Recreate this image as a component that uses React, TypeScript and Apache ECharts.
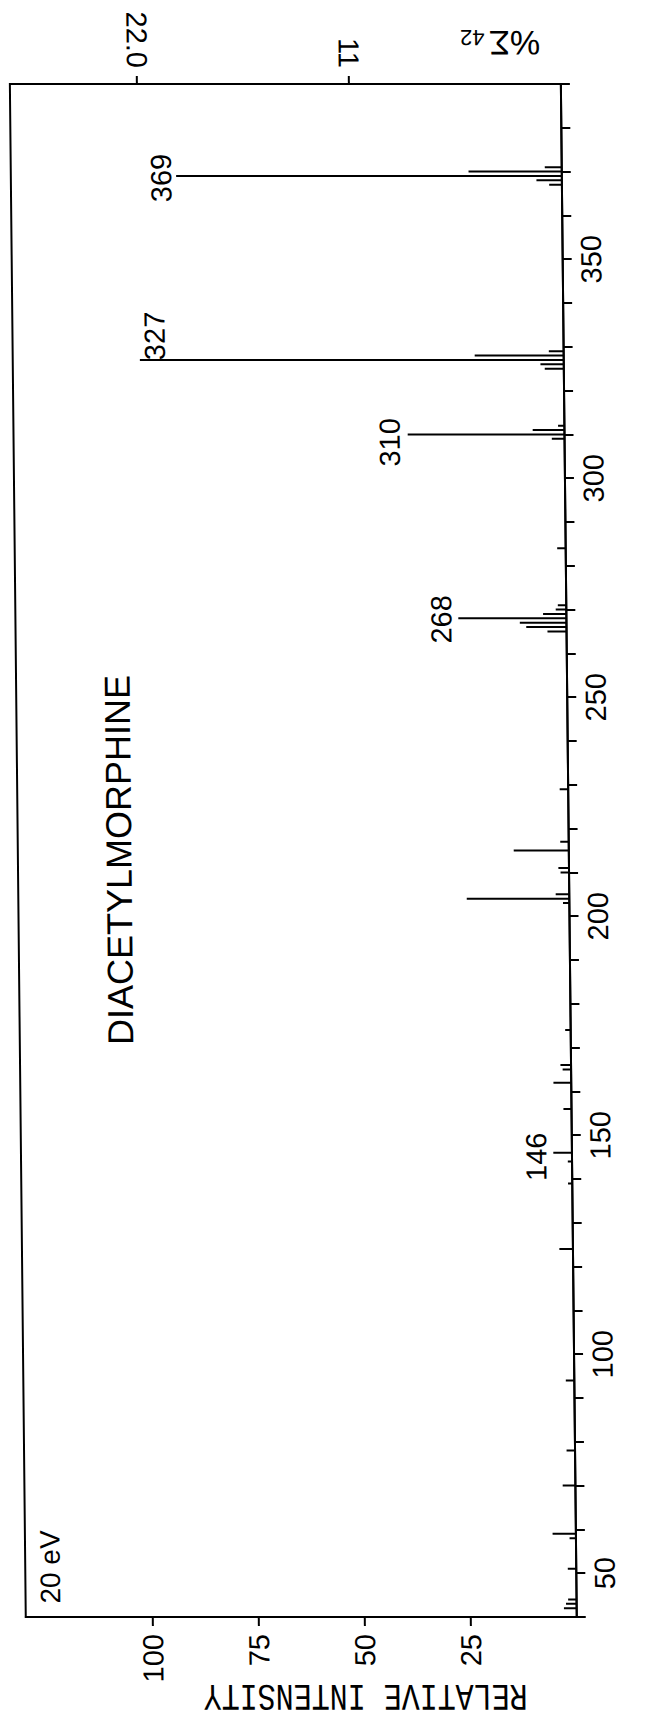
import React, { useEffect, useRef } from "react";
import * as echarts from "echarts";

// m/e of every line drawn in the spectrum
const mzValues = [
  42, 43, 44, 51, 58, 59, 70, 78, 94, 124, 139, 144, 146, 156, 162, 165, 166,
  174, 203, 204, 205, 210, 211, 215, 217, 229, 265, 266, 267, 268, 269, 270,
  271, 284, 309, 310, 311, 312, 325, 326, 327, 328, 329, 367, 368, 369, 370, 371,
];
// relative intensity (%) of each line, same order as mzValues
const intensities = [
  3, 2.5, 2, 2, 1.5, 5.5, 3, 2, 2, 3.2, 1, 1, 4.4, 1.9, 4.2, 2, 2.5,
  1.3, 1.5, 24.2, 3.2, 2, 2.5, 13, 2, 2, 4.5, 9.5, 11, 25.5, 5.5, 2.5,
  2, 2, 3, 37, 7.5, 1.5, 4.5, 5.5, 100, 21, 3.5, 3, 6, 91, 22, 4,
];
// peaks carrying a printed m/e label
const labeledPeaks = [369, 327, 310, 268, 146];
const labelOffsets = [
  [-15, 2],
  [15, -24],
  [-18, 8],
  [-17, 1],
  [-17, 4],
];

const intensityTicks = [25, 50, 75, 100];
const sumTicks = [11, 22];
const sumTickLabels = ["11", "22.0"];
const mzLabelStep = 50;

const title = "DIACETYLMORPHINE";
const energyLabel = "20 eV";
const yTitle = "RELATIVE INTENSITY";
const sumTitle = "%Σ";
const sumSub = "42";

const W = 647;
const H = 1731;
const FONT = "'Liberation Sans', Arial, sans-serif";

export default function App() {
  const ref = useRef<HTMLDivElement>(null);

  useEffect(() => {
    if (!ref.current) return;
    const chart = echarts.init(ref.current, null, { renderer: "svg" });
    const axisLine = { show: true, lineStyle: { color: "#000", width: 2 } };
    const option: any = {
      animation: false,
      backgroundColor: "#fff",
      grid: {
        show: true,
        left: 9,
        right: W - 560,
        top: 84,
        bottom: H - 1617,
        borderColor: "#000",
        borderWidth: 2,
        containLabel: false,
      },
      xAxis: [
        {
          type: "value",
          position: "bottom",
          inverse: true,
          min: 0,
          max: 130,
          interval: 25,
          axisLine,
          axisTick: {
            show: true,
            length: 9,
            lineStyle: { color: "#000", width: 2 },
            customValues: intensityTicks,
          },
          axisLabel: {
            rotate: 90,
            margin: 17,
            color: "#000",
            fontSize: 29,
            fontFamily: FONT,
            customValues: intensityTicks,
            formatter: (v: number) => (intensityTicks.includes(v) ? String(v) : ""),
          },
          splitLine: { show: false },
        },
        {
          type: "value",
          position: "top",
          inverse: true,
          min: 0,
          max: 130 * 0.22,
          interval: 11,
          axisLine,
          axisTick: {
            show: true,
            length: 8,
            lineStyle: { color: "#000", width: 2 },
            customValues: sumTicks,
          },
          axisLabel: {
            rotate: 90,
            margin: 16,
            color: "#000",
            fontSize: 29,
            fontFamily: FONT,
            customValues: sumTicks,
            formatter: (v: number) => {
              const i = sumTicks.indexOf(v);
              return i >= 0 ? sumTickLabels[i] : "";
            },
          },
          splitLine: { show: false },
        },
      ],
      yAxis: {
        type: "value",
        position: "right",
        min: 40,
        max: 390,
        interval: 10,
        axisLine,
        axisTick: { show: true, length: 9, lineStyle: { color: "#000", width: 2 } },
        axisLabel: {
          rotate: 90,
          margin: 14,
          color: "#000",
          fontSize: 29,
          fontFamily: FONT,
          formatter: (v: number) => (v % mzLabelStep === 0 ? String(v) : ""),
        },
        splitLine: { show: false },
      },
      series: [
        {
          type: "custom",
          xAxisIndex: 0,
          yAxisIndex: 0,
          clip: false,
          data: mzValues.map((m, i) => [intensities[i], m]),
          renderItem: (params: any, api: any) => {
            const v = api.value(0);
            const m = api.value(1);
            const base = api.coord([0, m]);
            const tip = api.coord([v, m]);
            const children: any[] = [
              {
                type: "line",
                shape: { x1: base[0], y1: base[1], x2: tip[0], y2: tip[1] },
                style: { stroke: "#000", lineWidth: 2 },
              },
            ];
            const li = labeledPeaks.indexOf(m);
            if (li >= 0) {
              children.push({
                type: "text",
                x: tip[0] + labelOffsets[li][0],
                y: tip[1] + labelOffsets[li][1],
                rotation: Math.PI / 2,
                style: {
                  text: String(m),
                  fill: "#000",
                  fontSize: 29,
                  fontFamily: FONT,
                  align: "center",
                  verticalAlign: "middle",
                },
              });
            }
            return { type: "group", children };
          },
        },
      ],
      graphic: [
        {
          type: "text",
          x: 110,
          y: 860,
          rotation: Math.PI / 2,
          style: {
            text: title,
            fill: "#000",
            fontSize: 36,
            fontFamily: FONT,
            align: "center",
            verticalAlign: "middle",
          },
        },
        {
          type: "text",
          x: 34,
          y: 1567,
          rotation: Math.PI / 2,
          style: {
            text: energyLabel,
            fill: "#000",
            fontSize: 28,
            fontFamily: FONT,
            align: "center",
            verticalAlign: "middle",
          },
        },
        {
          type: "text",
          x: 348,
          y: 1695,
          rotation: Math.PI,
          scaleY: 1.25,
          style: {
            text: yTitle,
            fill: "#000",
            fontSize: 30,
            fontFamily: "'Liberation Mono', 'DejaVu Sans Mono', monospace",
            align: "center",
            verticalAlign: "middle",
          },
        },
        {
          type: "text",
          x: 514,
          y: 43,
          rotation: Math.PI,
          style: {
            text: sumTitle,
            fill: "#000",
            fontSize: 34,
            fontFamily: FONT,
            align: "center",
            verticalAlign: "middle",
          },
        },
        {
          type: "text",
          x: 472,
          y: 37,
          rotation: Math.PI,
          style: {
            text: sumSub,
            fill: "#000",
            fontSize: 22,
            fontFamily: FONT,
            align: "center",
            verticalAlign: "middle",
          },
        },
      ],
    };
    chart.setOption(option);
    return () => chart.dispose();
  }, []);

  return (
    <div
      style={{
        position: "absolute",
        left: 0,
        top: 0,
        width: W,
        height: H,
        overflow: "hidden",
        background: "#fff",
      }}
    >
      <div
        ref={ref}
        style={{
          width: W,
          height: H,
          transform: "skewX(0.594deg)",
          transformOrigin: "0 0",
        }}
      />
    </div>
  );
}
